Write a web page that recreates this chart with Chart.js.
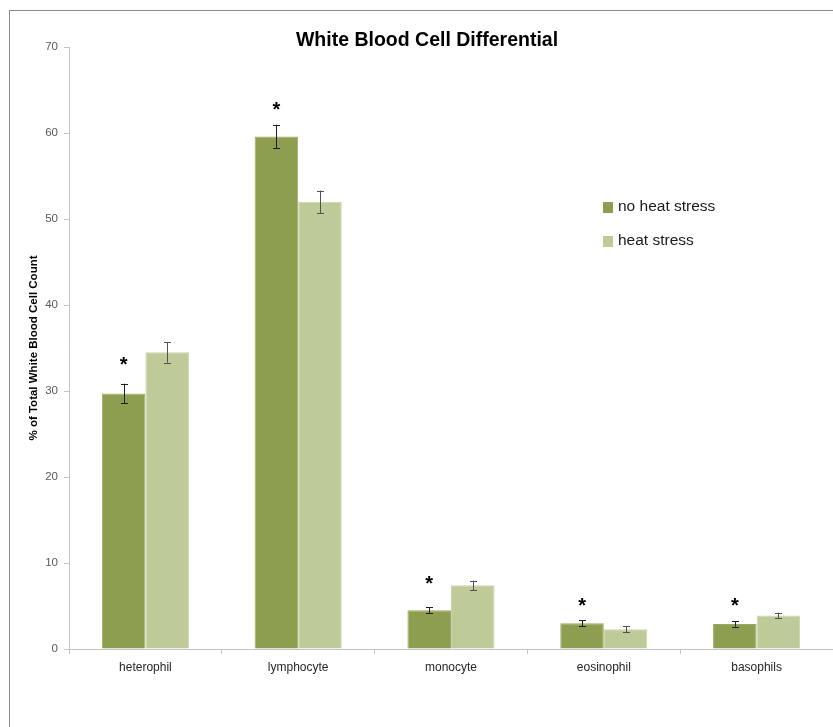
<!DOCTYPE html>
<html>
<head>
<meta charset="utf-8">
<title>White Blood Cell Differential</title>
<script src="https://cdn.jsdelivr.net/npm/chart.js@4.4.1/dist/chart.umd.min.js"></script>
<style>
  html, body { margin: 0; padding: 0; background: #ffffff; overflow: hidden; }
  #wrap { width: 833px; height: 727px; }
</style>
</head>
<body>
<div id="wrap"><canvas id="wbc" width="833" height="727"></canvas></div>
<script>
// Cell types on the x axis
const categories = ['heterophil', 'lymphocyte', 'monocyte', 'eosinophil', 'basophils'];

// Mean % of total white blood cell count, with error (± SE)
const noHeatStress    = [29.7, 59.6, 4.5, 3.0, 2.9];
const noHeatStressErr = [1.15, 1.35, 0.33, 0.33, 0.30];
const heatStress      = [34.5, 52.0, 7.4, 2.3, 3.9];
const heatStressErr   = [1.20, 1.30, 0.55, 0.37, 0.33];

// Height (axis units) of the significance asterisk over each group
const significance = [33.5, 63.1, 8.0, 5.5, 5.5];

// Value axis range
const yMin = 0, yMax = 70, yStep = 10;

const seriesLabels = ['no heat stress', 'heat stress'];
const DARK = '#8d9e50';
const LIGHT = '#bfca99';

const errors = [noHeatStressErr, heatStressErr];
const errColors = ['#1e1e1e', '#505050'];

const decorations = {
  id: 'decorations',
  beforeDraw(chart) {
    const ctx = chart.ctx;
    ctx.save();
    ctx.fillStyle = '#ffffff';
    ctx.fillRect(0, 0, chart.width, chart.height);
    ctx.restore();
  },
  afterDatasetsDraw(chart) {
    const ctx = chart.ctx;
    const y = chart.scales.y;
    ctx.save();
    ctx.lineWidth = 1;
    chart.data.datasets.forEach((ds, di) => {
      const meta = chart.getDatasetMeta(di);
      meta.data.forEach((bar, i) => {
        const v = ds.data[i];
        const e = errors[di][i];
        const x = Math.round(bar.x) + 0.5;
        const top = y.getPixelForValue(v + e);
        const bot = y.getPixelForValue(v - e);
        ctx.strokeStyle = errColors[di];
        ctx.beginPath();
        ctx.moveTo(x, top); ctx.lineTo(x, bot);
        ctx.moveTo(x - 3.5, Math.round(top) + 0.5); ctx.lineTo(x + 3.5, Math.round(top) + 0.5);
        ctx.moveTo(x - 3.5, Math.round(bot) + 0.5); ctx.lineTo(x + 3.5, Math.round(bot) + 0.5);
        ctx.stroke();
      });
    });
    ctx.restore();
  },
  afterDraw(chart) {
    const ctx = chart.ctx;
    const y = chart.scales.y;
    ctx.save();

    // outer frame
    ctx.strokeStyle = '#8c8c8c';
    ctx.lineWidth = 1;
    ctx.strokeRect(9.5, 10.5, 900, 900);

    // title
    ctx.fillStyle = '#000000';
    ctx.font = 'bold 19.5px "Liberation Sans", Arial, sans-serif';
    ctx.textAlign = 'center';
    ctx.textBaseline = 'middle';
    ctx.fillText('White Blood Cell Differential', 427, 41);

    // significance asterisks over the no-heat-stress bars
    const meta = chart.getDatasetMeta(0);
    ctx.font = 'bold 20px "Liberation Sans", Arial, sans-serif';
    ctx.textBaseline = 'alphabetic';
    const m = ctx.measureText('*');
    const shift = (m.actualBoundingBoxAscent - m.actualBoundingBoxDescent) / 2;
    significance.forEach((s, i) => {
      if (s == null) return;
      const cx = meta.data[i].x;
      const cy = y.getPixelForValue(s);
      ctx.fillText('*', cx, cy + shift);
    });

    // legend
    const colors = [DARK, LIGHT];
    const rows = [207, 241];
    ctx.font = '15.5px "Liberation Sans", Arial, sans-serif';
    ctx.textAlign = 'left';
    ctx.textBaseline = 'middle';
    seriesLabels.forEach((lab, i) => {
      ctx.fillStyle = colors[i];
      ctx.fillRect(603, rows[i] - 5, 10, 11);
      ctx.fillStyle = '#1a1a1a';
      ctx.fillText(lab, 618, rows[i]);
    });
    ctx.restore();
  }
};

new Chart(document.getElementById('wbc'), {
  type: 'bar',
  data: {
    labels: categories,
    datasets: [
      { label: seriesLabels[0], data: noHeatStress, backgroundColor: DARK,
        borderColor: '#9aab5f', borderWidth: 1,
        categoryPercentage: 0.57, barPercentage: 1.0 },
      { label: seriesLabels[1], data: heatStress, backgroundColor: LIGHT,
        borderColor: '#cad4aa', borderWidth: 1,
        categoryPercentage: 0.57, barPercentage: 1.0 }
    ]
  },
  plugins: [decorations],
  options: {
    responsive: false,
    animation: false,
    layout: { padding: { top: 47, right: 0, bottom: 0, left: 0 } },
    plugins: {
      legend: { display: false },
      title: { display: false },
      tooltip: { enabled: false }
    },
    scales: {
      x: {
        grid: { display: true, drawOnChartArea: false, drawTicks: true, tickLength: 5,
                color: '#c4c4c4', offset: true },
        border: { display: true, color: '#c4c4c4' },
        ticks: { color: '#262626', padding: 6,
                 font: { family: '"Liberation Sans", Arial, sans-serif', size: 12 } },
        afterFit(scale) { scale.height = 78; }
      },
      y: {
        min: yMin, max: yMax,
        grid: { display: true, drawOnChartArea: false, drawTicks: true, tickLength: 5,
                color: '#c4c4c4' },
        border: { display: true, color: '#c4c4c4' },
        ticks: { stepSize: yStep, color: '#595959', padding: 6,
                 font: { family: '"Liberation Sans", Arial, sans-serif', size: 11.5 } },
        title: { display: true, text: '% of Total White Blood Cell Count', color: '#000000',
                 padding: { top: 27, bottom: 0 },
                 font: { family: '"Liberation Sans", Arial, sans-serif', size: 11.5, weight: 'bold' } },
        afterFit(scale) { scale.width = 69; }
      }
    }
  }
});
</script>
</body>
</html>
